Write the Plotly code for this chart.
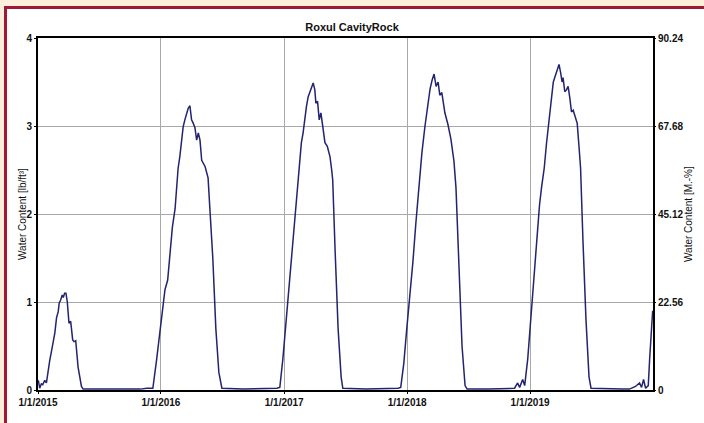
import plotly.graph_objects as go

title_text = "Roxul CavityRock"
left_axis_title = "Water Content [lb/ft³]"
right_axis_title = "Water Content [M.-%]"

x_tick_dates = ["2015-01-01", "2016-01-01", "2017-01-01", "2018-01-01", "2019-01-01"]
x_tick_labels = ["1/1/2015", "1/1/2016", "1/1/2017", "1/1/2018", "1/1/2019"]
left_ticks = [0, 1, 2, 3, 4]
right_ticks = [0, 22.56, 45.12, 67.68, 90.24]
right_tick_labels = ["0", "22.56", "45.12", "67.68", "90.24"]

dates = [
    "2015-01-01", "2015-01-02", "2015-01-06", "2015-01-11", "2015-01-15", "2015-01-21", "2015-01-26",
    "2015-01-31", "2015-02-05", "2015-02-10", "2015-02-15", "2015-02-20", "2015-02-25", "2015-03-02",
    "2015-03-05", "2015-03-09", "2015-03-14", "2015-03-17", "2015-03-21", "2015-03-25", "2015-03-29",
    "2015-04-03", "2015-04-08", "2015-04-14", "2015-04-18", "2015-04-23", "2015-04-30", "2015-05-10",
    "2015-05-15", "2015-08-01", "2015-11-01", "2015-11-20", "2015-12-08", "2015-12-19", "2015-12-29",
    "2016-01-06", "2016-01-13", "2016-01-21", "2016-01-28", "2016-02-04", "2016-02-12", "2016-02-17",
    "2016-02-21", "2016-02-26", "2016-03-02", "2016-03-07", "2016-03-12", "2016-03-17", "2016-03-22",
    "2016-03-27", "2016-04-01", "2016-04-06", "2016-04-11", "2016-04-16", "2016-04-21", "2016-04-26",
    "2016-05-01", "2016-05-11", "2016-05-20", "2016-05-25", "2016-06-03", "2016-06-12", "2016-06-21",
    "2016-06-30", "2016-09-01", "2016-12-10", "2016-12-19", "2016-12-28",
    "2017-01-06", "2017-01-15", "2017-01-24", "2017-02-02", "2017-02-11", "2017-02-16", "2017-02-21",
    "2017-02-26", "2017-03-03", "2017-03-08", "2017-03-13", "2017-03-18", "2017-03-23", "2017-03-28",
    "2017-04-02", "2017-04-05", "2017-04-10", "2017-04-15", "2017-04-20", "2017-04-25", "2017-05-02",
    "2017-05-09", "2017-05-17", "2017-05-22", "2017-05-25", "2017-06-01", "2017-06-10", "2017-06-19",
    "2017-06-24", "2017-09-01", "2017-12-05", "2017-12-13", "2017-12-22", "2017-12-31",
    "2018-01-09", "2018-01-18", "2018-01-27", "2018-02-05", "2018-02-14", "2018-02-23", "2018-03-04",
    "2018-03-10", "2018-03-16", "2018-03-22", "2018-03-28", "2018-04-03", "2018-04-08", "2018-04-14",
    "2018-04-23", "2018-05-02", "2018-05-11", "2018-05-20", "2018-05-26", "2018-06-04", "2018-06-13",
    "2018-06-22", "2018-06-28", "2018-09-01", "2018-11-16", "2018-11-25", "2018-12-01", "2018-12-10",
    "2018-12-16", "2018-12-25",
    "2019-01-03", "2019-01-12", "2019-01-20", "2019-01-29", "2019-02-04", "2019-02-12", "2019-02-19",
    "2019-02-24", "2019-03-01", "2019-03-06", "2019-03-11", "2019-03-16", "2019-03-21", "2019-03-25",
    "2019-03-28", "2019-04-02", "2019-04-06", "2019-04-09", "2019-04-14", "2019-04-19", "2019-04-24",
    "2019-04-29", "2019-05-04", "2019-05-09", "2019-05-14", "2019-05-21", "2019-05-27", "2019-05-31",
    "2019-06-07", "2019-06-16", "2019-06-25", "2019-07-01", "2019-10-01", "2019-10-23", "2019-11-10",
    "2019-11-22", "2019-11-28", "2019-12-04", "2019-12-10", "2019-12-18", "2019-12-22", "2019-12-31",
]

water_content = [
    0.08, 0.11, 0.02, 0.07, 0.06, 0.11, 0.08,
    0.23, 0.34, 0.44, 0.55, 0.65, 0.82, 0.89,
    0.99, 1.02, 1.08, 1.05, 1.10, 1.10, 1.00,
    0.76, 0.78, 0.57, 0.55, 0.56, 0.26, 0.04,
    0.01, 0.01, 0.01, 0.02, 0.02, 0.34, 0.65,
    0.95, 1.14, 1.25, 1.60, 1.85, 2.06, 2.31,
    2.52, 2.65, 2.81, 2.99, 3.07, 3.15, 3.20,
    3.23, 3.07, 3.03, 2.98, 2.84, 2.92, 2.84,
    2.61, 2.54, 2.41, 2.08, 1.50, 0.70, 0.20,
    0.02, 0.01, 0.02, 0.03, 0.35,
    0.75, 1.10, 1.50, 1.95, 2.39, 2.61, 2.81,
    2.92, 3.09, 3.22, 3.33, 3.39, 3.45, 3.49,
    3.41, 3.26, 3.28, 3.07, 3.15, 3.01, 2.81,
    2.77, 2.65, 2.50, 2.39, 1.60, 0.70, 0.15,
    0.02, 0.01, 0.02, 0.03, 0.30, 0.70,
    1.05, 1.45, 1.90, 2.30, 2.70, 3.00, 3.25,
    3.42, 3.52, 3.59, 3.45, 3.50, 3.35, 3.38,
    3.15, 3.02, 2.85, 2.60, 2.30, 1.40, 0.50,
    0.05, 0.01, 0.01, 0.02, 0.08, 0.03, 0.12,
    0.05, 0.35,
    0.80, 1.30, 1.75, 2.10, 2.30, 2.52, 2.81,
    2.99, 3.18, 3.38, 3.50, 3.56, 3.62, 3.67,
    3.70, 3.60, 3.50, 3.55, 3.39, 3.41, 3.45,
    3.32, 3.16, 3.18, 3.11, 3.03, 2.73, 2.52,
    1.70, 0.80, 0.15, 0.02, 0.01, 0.01, 0.04,
    0.08, 0.03, 0.12, 0.02, 0.05, 0.35, 0.90,
]

FONT = "Liberation Sans, Arial, sans-serif"
LINE_COLOR = "#23236f"
GRID = "#a8a8a8"

# plot area in pixels: left 38, right 653, top 38, bottom 390
L, R, T, B = 38, 653, 38, 390
W, H = R - L, B - T

def px_x(p):
    return (p - L) / W

def px_y(p):
    return (B - p) / H

fig = go.Figure()
fig.add_trace(go.Scatter(
    x=dates, y=water_content, mode="lines",
    line=dict(color=LINE_COLOR, width=1.5),
    showlegend=False, hoverinfo="x+y",
))
fig.add_trace(go.Scatter(
    x=[dates[0]], y=[None], yaxis="y2", mode="lines",
    showlegend=False, hoverinfo="skip",
))

tick_font = dict(family=FONT, size=10, color="#111111", weight="bold")

fig.update_layout(
    width=704, height=423,
    margin=dict(l=L, r=704 - R, t=T, b=423 - B),
    paper_bgcolor="#fcefdc",
    plot_bgcolor="white",
    title=dict(text=title_text, x=px_x(352), xref="paper", xanchor="center",
               y=1 - 27 / 423, yanchor="middle",
               font=dict(family=FONT, size=11, color="#111111", weight="bold")),
    xaxis=dict(
        type="date", range=["2015-01-01", "2020-01-01"],
        tickvals=x_tick_dates, ticktext=x_tick_labels,
        showgrid=True, gridcolor=GRID, gridwidth=1,
        showline=True, linecolor="black", linewidth=2, mirror=True,
        ticks="outside", ticklen=2, tickcolor="black",
        tickfont=tick_font, zeroline=False,
    ),
    yaxis=dict(
        range=[0, 4], tickvals=left_ticks,
        showgrid=True, gridcolor=GRID, gridwidth=1,
        showline=True, linecolor="black", linewidth=2, mirror=True,
        ticks="outside", ticklen=2, tickcolor="black",
        tickfont=tick_font, zeroline=False,
    ),
    yaxis2=dict(
        range=[0, 90.24], tickvals=right_ticks, ticktext=right_tick_labels,
        overlaying="y", side="right", showgrid=False, showline=False,
        ticks="outside", ticklen=2, tickcolor="black",
        tickfont=tick_font, zeroline=False,
    ),
    shapes=[
        dict(type="rect", xref="paper", yref="paper", layer="below",
             x0=px_x(5.5), x1=px_x(712), y0=px_y(432), y1=px_y(7.5),
             fillcolor="white", line=dict(color="#9e1b34", width=3)),
    ],
    annotations=[
        dict(text=left_axis_title, xref="paper", yref="paper", x=px_x(22), y=px_y(214),
             textangle=-90, showarrow=False, xanchor="center", yanchor="middle",
             font=dict(family=FONT, size=10, color="#111111")),
        dict(text=right_axis_title, xref="paper", yref="paper", x=px_x(688), y=px_y(214),
             textangle=-90, showarrow=False, xanchor="center", yanchor="middle",
             font=dict(family=FONT, size=10, color="#111111")),
    ],
)

fig.write_html(
    "out.html",
    config={"displayModeBar": False},
    post_script="document.body.style.margin='0';document.body.style.overflow='hidden';",
)
